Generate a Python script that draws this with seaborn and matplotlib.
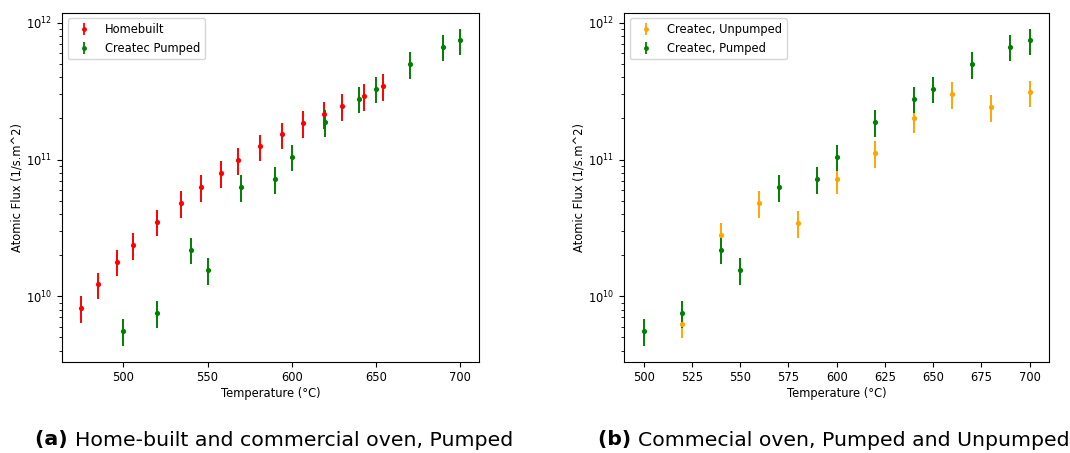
import numpy as np
import pandas as pd
import matplotlib
matplotlib.use("Agg")
import matplotlib.pyplot as plt
import seaborn as sns
from matplotlib.lines import Line2D
from matplotlib.legend_handler import HandlerTuple

# ---- data ----
home_temp = [475, 485, 496, 506, 520, 534, 546, 558, 568, 581, 594, 607, 619, 630, 643, 654]
home_flux = [8.2e9, 1.22e10, 1.79e10, 2.37e10, 3.52e10, 4.8e10, 6.29e10, 8.0e10, 9.89e10,
             1.25e11, 1.53e11, 1.86e11, 2.16e11, 2.46e11, 2.93e11, 3.47e11]

pumped_temp = [500, 520, 540, 550, 570, 590, 600, 620, 640, 650, 670, 690, 700]
pumped_flux = [5.56e9, 7.55e9, 2.19e10, 1.56e10, 6.31e10, 7.19e10, 1.05e11, 1.88e11,
               2.80e11, 3.31e11, 5.0e11, 6.7e11, 7.46e11]

unpumped_temp = [520, 540, 560, 580, 600, 620, 640, 660, 680, 700]
unpumped_flux = [6.3e9, 2.82e10, 4.82e10, 3.44e10, 7.17e10, 1.12e11, 2.0e11, 3.02e11, 2.42e11, 3.1e11]

rel_err = 0.22

xlabel = "Temperature (°C)"
ylabel = "Atomic Flux (1/s.m^2)"
cap_a = ("(a)", "Home-built and commercial oven, Pumped")
cap_b = ("(b)", "Commecial oven, Pumped and Unpumped")

FS = 8.3

fig = plt.figure(figsize=(10.70, 4.53), dpi=100)
axA = fig.add_axes([62.3 / 1070, 91.3 / 453, 416.7 / 1070, 349 / 453])
axB = fig.add_axes([624.3 / 1070, 91.3 / 453, 424.7 / 1070, 349 / 453])


def series(ax, t, f, color, label):
    df = pd.DataFrame({"T": t, "F": f})
    df["err"] = df["F"] * rel_err
    ax.errorbar(df["T"], df["F"], yerr=df["err"], fmt="none", ecolor=color, elinewidth=1.4)
    sns.scatterplot(data=df, x="T", y="F", ax=ax, color=color, s=14, linewidth=0, legend=False, zorder=3)
    h = (Line2D([], [], color=color, marker="|", linestyle="None", markersize=9, mew=1.3),
         Line2D([], [], color=color, marker="o", linestyle="None", markersize=3.5, mew=0))
    return h, label


def style(ax, handles, labels):
    ax.set_yscale("log")
    ax.set_xlabel(xlabel, fontsize=FS, labelpad=2)
    ax.set_ylabel(ylabel, fontsize=FS, labelpad=2)
    ax.tick_params(labelsize=FS)
    ax.legend(handles, labels, loc="upper left", fontsize=FS,
              handler_map={tuple: HandlerTuple(ndivide=1)}, handlelength=2.0)


h1 = series(axA, home_temp, home_flux, "red", "Homebuilt")
h2 = series(axA, pumped_temp, pumped_flux, "green", "Createc Pumped")
style(axA, [h1[0], h2[0]], [h1[1], h2[1]])

h3 = series(axB, unpumped_temp, unpumped_flux, "orange", "Createc, Unpumped")
h4 = series(axB, pumped_temp, pumped_flux, "green", "Createc, Pumped")
style(axB, [h3[0], h4[0]], [h3[1], h4[1]])

# captions
fig.canvas.draw()
renderer = fig.canvas.get_renderer()


def caption(x_left, x_right, parts):
    bold, rest = parts
    size = 13.0
    t1 = fig.text(0, 0, bold + " ", fontsize=size, fontweight="bold", family="DejaVu Sans")
    t2 = fig.text(0, 0, rest, fontsize=size, family="DejaVu Sans")
    w = t1.get_window_extent(renderer).width + t2.get_window_extent(renderer).width
    size = size * (x_right - x_left) / w
    t1.set_fontsize(size)
    t2.set_fontsize(size)
    w1 = t1.get_window_extent(renderer).width
    y = 440 / 453
    t1.set_position((x_left / 1070, 1 - y))
    t2.set_position(((x_left + w1) / 1070, 1 - y))
    t1.set_va("center")
    t2.set_va("center")


caption(35, 512, cap_a)
caption(598, 1068, cap_b)

fig.savefig("out.png", dpi=100)
